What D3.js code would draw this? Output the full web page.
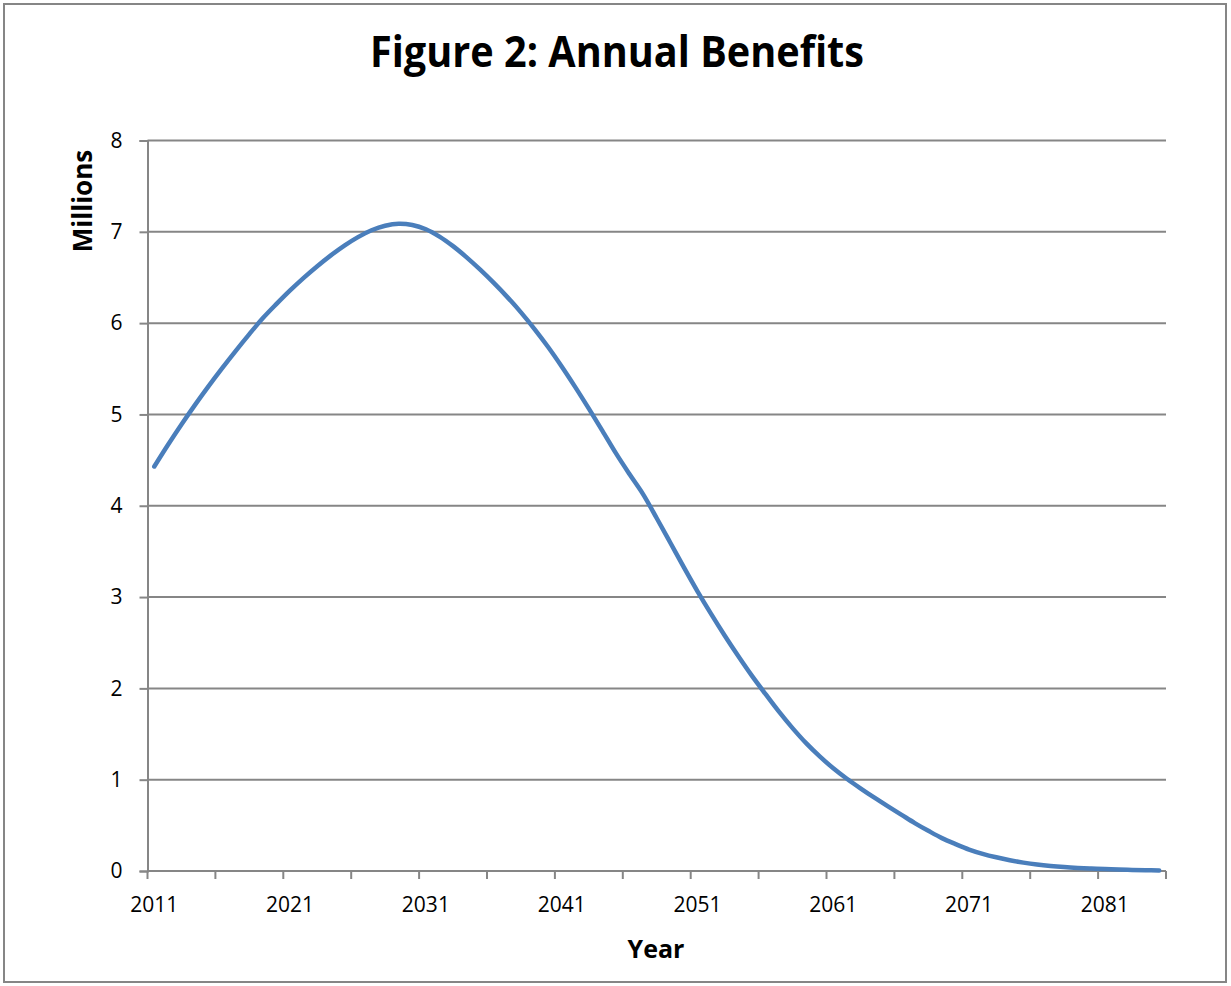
<!DOCTYPE html>
<html>
<head>
<meta charset="utf-8">
<script src="https://cdn.jsdelivr.net/npm/d3@7"></script>
<style>
  html, body { margin: 0; padding: 0; background: #fff; }
  svg { display: block; font-family: 'Open Sans', sans-serif; }
</style>
</head>
<body>
<div id="chart"></div>
<script>
// years 2011..2085, one point per year
var years = d3.range(2011, 2086);

// annual benefits in millions
var benefits = [
  4.430, 4.665, 4.890, 5.105, 5.310, 5.507, 5.697, 5.880, 6.055, 6.210,
  6.358, 6.496, 6.624, 6.742, 6.849, 6.942, 7.017, 7.067, 7.089, 7.075,
  7.028, 6.948, 6.843, 6.720, 6.585, 6.440, 6.285, 6.118, 5.935, 5.738,
  5.525, 5.299, 5.063, 4.820, 4.573, 4.345, 4.125, 3.863, 3.595, 3.325,
  3.063, 2.816, 2.580, 2.355, 2.140, 1.940, 1.745, 1.565, 1.400, 1.255,
  1.125, 1.010, 0.905, 0.805, 0.710, 0.618, 0.525, 0.440, 0.360, 0.295,
  0.235, 0.188, 0.150, 0.118, 0.092, 0.071, 0.055, 0.043, 0.034, 0.027,
  0.021, 0.016, 0.012, 0.009, 0.006
];

var yTicks = [0, 1, 2, 3, 4, 5, 6, 7, 8];
var xLabelYears = [2011, 2021, 2031, 2041, 2051, 2061, 2071, 2081];
var xTickYears = d3.range(2011, 2086, 5);

var chartTitle = 'Figure 2: Annual Benefits';
var xTitle = 'Year';
var yTitle = 'Millions';

(function() {
  var width = 1231;
  var height = 986;

  // プロット領域
  var plot = { left: 147.5, right: 1166, top: 140.5, bottom: 871 };

  var axisColor = '#868686';
  var lineColor = '#4a7ebb';

  var svg = d3.select('#chart').append('svg')
    .attr('width', width)
    .attr('height', height);

  svg.append('rect')
    .attr('x', 0).attr('y', 0)
    .attr('width', width).attr('height', height)
    .attr('fill', '#fff');

  // 外枠
  svg.append('rect')
    .attr('x', 4).attr('y', 4)
    .attr('width', 1222).attr('height', 978)
    .attr('fill', 'none')
    .attr('stroke', axisColor)
    .attr('stroke-width', 2);

  // category axis: points sit in the middle of each band
  var x = d3.scaleBand()
    .domain(years)
    .range([plot.left, plot.right])
    .paddingInner(0)
    .paddingOuter(0);

  var y = d3.scaleLinear()
    .domain([0, 8])
    .range([plot.bottom, plot.top]);

  var cx = function(d) {
    return x(d) + x.bandwidth() / 2;
  };

  // 横グリッド
  svg.append('g')
    .selectAll('line')
    .data(yTicks.filter(function(d) { return d > 0; }))
    .enter()
    .append('line')
    .attr('x1', plot.left)
    .attr('x2', plot.right)
    .attr('y1', function(d) { return y(d); })
    .attr('y2', function(d) { return y(d); })
    .attr('stroke', axisColor)
    .attr('stroke-width', 2);

  // y axis
  var yAxis = svg.append('g')
    .attr('transform', 'translate(' + plot.left + ',0)')
    .call(d3.axisLeft(y).tickValues(yTicks).tickSize(8).tickPadding(17).tickFormat(d3.format('d')));

  yAxis.select('.domain').attr('stroke', axisColor).attr('stroke-width', 2);
  yAxis.selectAll('.tick line').attr('stroke', axisColor).attr('stroke-width', 2);
  yAxis.selectAll('.tick text')
    .attr('fill', '#000')
    .style('font-size', '21px')
    .style('font-family', "'Open Sans', sans-serif");

  // x axis (ticks every 5 categories, labels every 10)
  var xAxisG = svg.append('g')
    .attr('transform', 'translate(0,' + plot.bottom + ')');

  xAxisG.append('line')
    .attr('x1', plot.left)
    .attr('x2', plot.right)
    .attr('stroke', axisColor)
    .attr('stroke-width', 2);

  xAxisG.selectAll('.xtick')
    .data(xTickYears.concat([null]))
    .enter()
    .append('line')
    .classed('xtick', true)
    .attr('x1', function(d) { return d === null ? plot.right : x(d); })
    .attr('x2', function(d) { return d === null ? plot.right : x(d); })
    .attr('y1', 0)
    .attr('y2', 8)
    .attr('stroke', axisColor)
    .attr('stroke-width', 2);

  xAxisG.selectAll('.xlabel')
    .data(xLabelYears)
    .enter()
    .append('text')
    .classed('xlabel', true)
    .attr('x', cx)
    .attr('y', 41)
    .attr('text-anchor', 'middle')
    .style('font-size', '21px')
    .text(function(d) { return d; });

  // データ線
  var line = d3.line()
    .x(function(d, i) { return cx(years[i]); })
    .y(function(d) { return y(d); })
    .curve(d3.curveCatmullRom);

  svg.append('path')
    .datum(benefits)
    .attr('d', line)
    .attr('fill', 'none')
    .attr('stroke', lineColor)
    .attr('stroke-width', 4.5)
    .attr('stroke-linecap', 'round')
    .attr('stroke-linejoin', 'round');

  // タイトル
  svg.append('text')
    .attr('x', 617)
    .attr('y', 67)
    .attr('text-anchor', 'middle')
    .attr('textLength', 494)
    .attr('lengthAdjust', 'spacingAndGlyphs')
    .style('font-size', '43px')
    .style('font-weight', 'bold')
    .text(chartTitle);

  svg.append('text')
    .attr('x', 656)
    .attr('y', 958)
    .attr('text-anchor', 'middle')
    .style('font-size', '25px')
    .style('font-weight', 'bold')
    .text(xTitle);

  svg.append('text')
    .attr('transform', 'translate(92,201) rotate(-90)')
    .attr('text-anchor', 'middle')
    .style('font-size', '26px')
    .style('font-weight', 'bold')
    .text(yTitle);
})();
</script>
</body>
</html>
